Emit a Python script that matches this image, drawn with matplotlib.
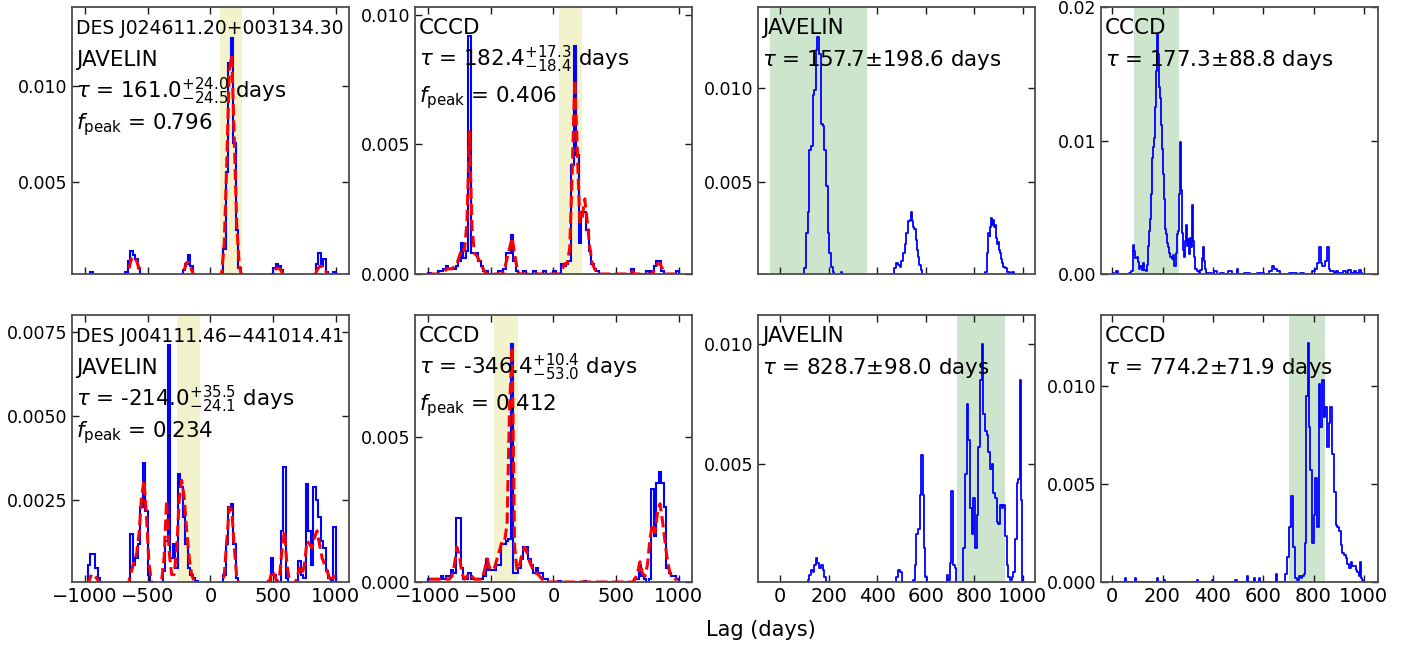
import numpy as np
import matplotlib.pyplot as plt

# ---- data ---------------------------------------------------------------
# left two columns: 20-day bins, lag -1000..1000, given as (bin centre, density)
centers = np.arange(-990, 1000, 20)
edges = np.arange(-1000, 1001, 20)

# source 1 (DES J024611.20+003134.30)
jav1_hist = [(-950, 0.0003),
             (-690, 0.0001), (-670, 0.0003), (-650, 0.0009), (-630, 0.0014), (-610, 0.0012),
             (-590, 0.0010), (-570, 0.0005), (-550, 0.0002),
             (-230, 0.0001), (-210, 0.0004), (-190, 0.0007), (-170, 0.0012), (-150, 0.0006), (-130, 0.0001),
             (90, 0.0002), (110, 0.0015), (130, 0.0055), (150, 0.0112), (170, 0.0125), (190, 0.0070),
             (210, 0.0025), (230, 0.0005),
             (490, 0.0002), (510, 0.0005), (530, 0.0007), (550, 0.0006), (570, 0.0004), (590, 0.0001),
             (830, 0.0002), (850, 0.0007), (870, 0.0013), (890, 0.0006), (910, 0.0010), (930, 0.0003),
             (950, 0.0001), (990, 0.0003)]
jav1_smooth = [(-670, 0.0001), (-650, 0.0005), (-630, 0.0010), (-610, 0.0011), (-590, 0.0009),
               (-570, 0.0005), (-550, 0.0002),
               (-230, 0.0001), (-210, 0.0004), (-190, 0.0008), (-170, 0.0008), (-150, 0.0004), (-130, 0.0001),
               (90, 0.0003), (110, 0.0018), (130, 0.0060), (150, 0.0108), (170, 0.0116), (190, 0.0072),
               (210, 0.0027), (230, 0.0006), (250, 0.0001),
               (490, 0.0001), (510, 0.0004), (530, 0.0005), (550, 0.0005), (570, 0.0003), (590, 0.0001),
               (830, 0.0001), (850, 0.0004), (870, 0.0006), (890, 0.0006), (910, 0.0005), (930, 0.0002),
               (950, 0.0001)]
ccf1_hist = [(-990, 0.00005), (-910, 0.0001), (-890, 0.0001), (-870, 0.0002), (-850, 0.0003),
             (-830, 0.0002), (-810, 0.0002), (-790, 0.0002), (-770, 0.0003), (-750, 0.0005),
             (-730, 0.0012), (-710, 0.0006), (-690, 0.0009), (-670, 0.0092), (-650, 0.0008),
             (-630, 0.0008), (-610, 0.0008), (-590, 0.0005), (-570, 0.0003), (-550, 0.0001),
             (-530, 0.0001), (-430, 0.0001), (-410, 0.0001), (-390, 0.0002), (-370, 0.0008),
             (-350, 0.0008), (-330, 0.0015), (-310, 0.0005), (-290, 0.0001), (-230, 0.0001),
             (-150, 0.0001), (-70, 0.0001), (10, 0.0001), (70, 0.0004), (90, 0.0003), (110, 0.0004),
             (130, 0.0005), (150, 0.0042), (170, 0.0088), (190, 0.0046), (210, 0.0012), (230, 0.0024),
             (250, 0.0024), (270, 0.0017), (290, 0.0009), (310, 0.0004), (330, 0.0002), (350, 0.0001),
             (630, 0.0002), (750, 0.0001), (790, 0.0001), (810, 0.0003), (830, 0.0005), (850, 0.0005),
             (870, 0.0001), (990, 0.0001)]
ccf1_smooth = [(-890, 0.00005), (-870, 0.0001), (-850, 0.0002), (-830, 0.0002), (-810, 0.0002),
               (-790, 0.0003), (-770, 0.0004), (-750, 0.0007), (-730, 0.0010), (-710, 0.0009),
               (-690, 0.0020), (-670, 0.0055), (-650, 0.0018), (-630, 0.0008), (-610, 0.0007),
               (-590, 0.0005), (-570, 0.0003), (-550, 0.0001), (-390, 0.0002), (-370, 0.0006),
               (-350, 0.0010), (-330, 0.0014), (-310, 0.0008), (-290, 0.0002), (70, 0.0002),
               (90, 0.0004), (110, 0.0004), (130, 0.0010), (150, 0.0040), (170, 0.0075), (190, 0.0048),
               (210, 0.0020), (230, 0.0022), (250, 0.0029), (270, 0.0020), (290, 0.0010), (310, 0.0004),
               (330, 0.0002), (630, 0.0001), (810, 0.0002), (830, 0.0004), (850, 0.0004), (870, 0.0002)]

# source 2 (DES J004111.46-441014.41)
jav2_hist = [(-970, 0.0006), (-950, 0.0009), (-930, 0.0009), (-910, 0.0005), (-890, 0.0002),
             (-630, 0.0015), (-610, 0.0006), (-590, 0.0008), (-570, 0.0012), (-550, 0.0023),
             (-530, 0.0036), (-510, 0.0022), (-490, 0.0003),
             (-370, 0.0004), (-350, 0.0013), (-330, 0.0071), (-310, 0.0008), (-290, 0.0012),
             (-270, 0.0005), (-250, 0.0033), (-230, 0.0029), (-210, 0.0020), (-190, 0.0012),
             (-170, 0.0005), (-150, 0.0003), (-130, 0.0002), (-110, 0.0001),
             (110, 0.0003), (130, 0.0012), (150, 0.0023), (170, 0.0024), (190, 0.0012), (210, 0.0002),
             (470, 0.0001), (490, 0.0008), (510, 0.0003), (530, 0.0001),
             (570, 0.0016), (590, 0.0035), (610, 0.0002),
             (690, 0.0001), (710, 0.0007), (730, 0.0003), (750, 0.0002), (770, 0.0030), (790, 0.0016),
             (810, 0.0006), (830, 0.0029), (850, 0.0025), (870, 0.0020), (890, 0.0013), (910, 0.0011),
             (930, 0.0004), (950, 0.0002), (970, 0.0001), (990, 0.0017)]
jav2_smooth = [(-970, 0.0001), (-950, 0.0003), (-930, 0.0003), (-910, 0.0002), (-890, 0.0001),
               (-650, 0.0001), (-630, 0.0004), (-610, 0.0007), (-590, 0.0009), (-570, 0.0015),
               (-550, 0.0026), (-530, 0.0031), (-510, 0.0020), (-490, 0.0006), (-470, 0.0001),
               (-390, 0.0001), (-370, 0.0008), (-350, 0.0025), (-330, 0.0010), (-310, 0.0003),
               (-290, 0.0003), (-270, 0.0010), (-250, 0.0025), (-230, 0.0031), (-210, 0.0026),
               (-190, 0.0016), (-170, 0.0008), (-150, 0.0003), (-130, 0.0001),
               (110, 0.0003), (130, 0.0013), (150, 0.0023), (170, 0.0022), (190, 0.0011), (210, 0.0002),
               (470, 0.0001), (490, 0.0004), (510, 0.0003), (530, 0.0001),
               (550, 0.0002), (570, 0.0010), (590, 0.0016), (610, 0.0006), (630, 0.0001),
               (690, 0.0002), (710, 0.0005), (730, 0.0003), (750, 0.0006), (770, 0.0013), (790, 0.0012),
               (810, 0.0011), (830, 0.0014), (850, 0.0016), (870, 0.0012), (890, 0.0008), (910, 0.0006),
               (930, 0.0004), (950, 0.0002), (970, 0.0001), (990, 0.0003)]
ccf2_hist = [(-990, 0.0001), (-970, 0.0001), (-950, 0.0001), (-930, 0.0001), (-910, 0.0001),
             (-890, 0.0002), (-870, 0.0001), (-850, 0.0002), (-830, 0.0002), (-810, 0.0004),
             (-790, 0.0003), (-770, 0.0022), (-750, 0.0022), (-730, 0.0005), (-710, 0.0001),
             (-690, 0.0001), (-670, 0.0003), (-650, 0.0001), (-630, 0.0001), (-610, 0.0001),
             (-590, 0.0001), (-570, 0.0001), (-550, 0.0002), (-530, 0.0008), (-510, 0.0004),
             (-490, 0.0004), (-470, 0.0004), (-450, 0.0006), (-430, 0.0006), (-410, 0.0013),
             (-390, 0.0013), (-370, 0.0014), (-350, 0.0015), (-330, 0.0082), (-310, 0.0003),
             (-290, 0.0003), (-270, 0.0005), (-250, 0.0008), (-230, 0.0012), (-210, 0.0012),
             (-190, 0.0008), (-170, 0.0006), (-150, 0.0003), (-130, 0.0005), (-110, 0.0003),
             (-90, 0.0003), (-70, 0.0001), (-50, 0.0001), (50, 0.00005), (250, 0.00005),
             (650, 0.0001), (670, 0.0001), (690, 0.0006), (710, 0.0002), (730, 0.0001),
             (770, 0.0001), (790, 0.0032), (810, 0.0016), (830, 0.0034), (850, 0.0038), (870, 0.0034),
             (890, 0.0026), (910, 0.0005), (930, 0.0003), (950, 0.0002), (970, 0.0002), (990, 0.0001)]
ccf2_smooth = [(-990, 0.0001), (-970, 0.0001), (-950, 0.0001), (-930, 0.0001), (-910, 0.0001),
               (-890, 0.0001), (-870, 0.0001), (-850, 0.0001), (-830, 0.0001), (-810, 0.0002),
               (-790, 0.0006), (-770, 0.0012), (-750, 0.0009), (-730, 0.0003), (-710, 0.0001),
               (-690, 0.0002), (-670, 0.0003), (-650, 0.0002), (-630, 0.0001), (-610, 0.0001),
               (-590, 0.0001), (-570, 0.0001), (-550, 0.0004), (-530, 0.0008), (-510, 0.0005),
               (-490, 0.0004), (-470, 0.0005), (-450, 0.0008), (-430, 0.0011), (-410, 0.0014),
               (-390, 0.0014), (-370, 0.0020), (-350, 0.0060), (-330, 0.0081), (-310, 0.0012),
               (-290, 0.0004), (-270, 0.0006), (-250, 0.0010), (-230, 0.0012), (-210, 0.0010),
               (-190, 0.0007), (-170, 0.0005), (-150, 0.0003), (-130, 0.0003), (-110, 0.0002),
               (-90, 0.0001), (650, 0.0001), (670, 0.0003), (690, 0.0007), (710, 0.0003),
               (730, 0.0002), (750, 0.0006), (770, 0.0015), (790, 0.0020), (810, 0.0017),
               (830, 0.0024), (850, 0.0027), (870, 0.0021), (890, 0.0014), (910, 0.0007),
               (930, 0.0003), (950, 0.0002), (970, 0.0001), (990, 0.0001)]

# right two columns: finer distributions, (lag, density)
jav1_fine = [(98, 0), (102, 0.0004), (109, 0.0023), (116, 0.0034), (123, 0.0067), (130, 0.0069),
             (137, 0.0096), (143, 0.0099), (150, 0.0120), (157, 0.0127), (164, 0.0118), (171, 0.0081),
             (178, 0.0080), (185, 0.0067), (192, 0.0048), (199, 0.0023), (206, 0.0012), (213, 0.0005),
             (220, 0.0002), (226, 0), (248, 0), (253, 0.0002), (258, 0),
             (455, 0), (461, 0.0001), (475, 0.0004), (482, 0.0007), (489, 0.0006), (496, 0.0005),
             (502, 0.0008), (509, 0.0012), (516, 0.0017), (523, 0.0023), (530, 0.0029), (536, 0.0030),
             (541, 0.0034), (546, 0.0029), (551, 0.0026), (556, 0.0025), (562, 0.0019), (567, 0.0014),
             (571, 0.0010), (576, 0.0006), (581, 0.0003), (589, 0),
             (843, 0), (848, 0.0002), (854, 0.0012), (861, 0.0023), (865, 0.0021), (868, 0.0026),
             (872, 0.0031), (875, 0.0027), (879, 0.0030), (882, 0.0026), (886, 0.0027), (889, 0.0022),
             (893, 0.0020), (896, 0.0017), (900, 0.0018), (903, 0.0014), (907, 0.0012), (910, 0.0009),
             (916, 0.0007), (923, 0.0005), (930, 0.0004), (937, 0.0002), (944, 0.0002), (951, 0.0001),
             (958, 0.0002), (966, 0)]
ccf1_fine = [(0, 0), (6, 0.0001), (12, 0), (20, 0.0002), (26, 0), (60, 0), (73, 0.0001), (80, 0.0002),
             (86, 0.0022), (90, 0.0017), (94, 0.0012), (100, 0.0013), (106, 0.0009), (110, 0.0004),
             (113, 0.0006), (120, 0.0003), (126, 0.0008), (130, 0.0003), (136, 0.0002), (140, 0.0007),
             (146, 0.0021), (150, 0.0032), (153, 0.0041), (158, 0.0060), (162, 0.0087), (166, 0.0095),
             (170, 0.0102), (173, 0.0125), (176, 0.0152), (180, 0.0180), (183, 0.0165), (186, 0.0140),
             (190, 0.0135), (193, 0.0132), (196, 0.0112), (200, 0.0094), (203, 0.0075), (206, 0.0056),
             (210, 0.0043), (213, 0.0034), (216, 0.0030), (219, 0.0023), (224, 0.0020), (229, 0.0016),
             (234, 0.0013), (239, 0.0011), (245, 0.0014), (250, 0.0006), (254, 0.0012), (257, 0.0016),
             (260, 0.0030), (263, 0.0032), (267, 0.0060), (270, 0.0099), (273, 0.0075), (275, 0.0063),
             (279, 0.0031), (283, 0.0018), (286, 0.0013), (290, 0.0025), (295, 0.0037), (299, 0.0021),
             (303, 0.0026), (307, 0.0015), (311, 0.0027), (315, 0.0020), (319, 0.0052), (323, 0.0025),
             (326, 0.0013), (332, 0.0004), (340, 0.0002), (346, 0.0001), (352, 0.0003), (358, 0.0012),
             (362, 0.0020), (366, 0.0010), (370, 0.0004), (378, 0.0001), (390, 0.0001), (400, 0),
             (412, 0.0002), (420, 0), (439, 0.0001), (446, 0), (472, 0.0002), (478, 0), (495, 0),
             (499, 0.0004), (504, 0), (545, 0.0001), (552, 0), (598, 0.0001), (606, 0), (620, 0),
             (630, 0.0002), (638, 0.0006), (645, 0.0004), (652, 0.0004), (658, 0.0002), (665, 0.0002),
             (672, 0), (731, 0.0001), (738, 0), (758, 0.0001), (765, 0), (790, 0), (798, 0.0002),
             (812, 0.0004), (818, 0.0008), (823, 0.0020), (827, 0.0020), (832, 0.0008), (838, 0.0006),
             (844, 0.0006), (851, 0.0010), (855, 0.0020), (858, 0.0020), (862, 0.0004), (870, 0.0002),
             (878, 0.0002), (886, 0.0001), (894, 0.0002), (904, 0.0001), (914, 0.0001), (924, 0.0002),
             (934, 0.0001), (944, 0.0003), (954, 0.0001), (964, 0.0002), (974, 0.0001), (984, 0.0003),
             (992, 0.0001), (997, 0)]
jav2_fine = [(110, 0), (116, 0.0002), (123, 0.0004), (130, 0.0006), (137, 0.0005), (144, 0.0008),
             (150, 0.0011), (157, 0.0009), (164, 0.0007), (171, 0.0008), (178, 0.0006), (185, 0.0003),
             (192, 0.0001), (199, 0),
             (476, 0), (482, 0.0003), (490, 0.0006), (497, 0.0005), (503, 0),
             (545, 0), (551, 0.0002), (558, 0.0008), (565, 0.0021), (571, 0.0023), (578, 0.0037),
             (585, 0.0054), (590, 0.0037), (595, 0.0015), (600, 0.0003), (606, 0),
             (684, 0), (689, 0.0004), (696, 0.0002), (703, 0.0009), (709, 0.0039), (716, 0.0008),
             (723, 0.0007), (730, 0),
             (752, 0), (758, 0.0015), (765, 0.0046), (772, 0.0075), (778, 0.0060), (785, 0.0032),
             (792, 0.0021), (799, 0.0036), (806, 0.0015), (813, 0.0029), (820, 0.0057), (827, 0.0085),
             (834, 0.0100), (841, 0.0071), (848, 0.0064), (855, 0.0062), (861, 0.0055), (868, 0.0048),
             (875, 0.0050), (882, 0.0038), (889, 0.0036), (896, 0.0026), (903, 0.0025), (910, 0.0033),
             (916, 0.0032), (923, 0.0033), (930, 0.0020), (937, 0.0008), (944, 0.0003), (951, 0.0002),
             (958, 0.0003), (965, 0.0005), (972, 0.0019), (979, 0.0042), (985, 0.0044), (992, 0.0085),
             (996, 0.0035), (1001, 0)]
ccf2_fine = [(0, 0), (49, 0), (53, 0.0002), (57, 0), (89, 0), (93, 0.0002), (97, 0), (176, 0),
             (180, 0.0002), (184, 0), (202, 0), (206, 0.0001), (210, 0), (335, 0), (339, 0.0001),
             (343, 0), (395, 0), (399, 0.0001), (403, 0), (488, 0), (492, 0.0001), (496, 0),
             (535, 0), (539, 0.0003), (543, 0), (561, 0), (565, 0.0002), (569, 0), (581, 0),
             (585, 0.0002), (589, 0), (648, 0), (652, 0.0004), (656, 0),
             (680, 0), (691, 0.0004), (698, 0.0013), (707, 0.0028), (715, 0.0044), (722, 0.0018),
             (731, 0.0002), (738, 0.0001), (745, 0.0003), (752, 0.0002), (758, 0.0003), (765, 0.0004),
             (768, 0.0020), (774, 0.0095), (779, 0.0122), (784, 0.0079), (791, 0.0057), (798, 0.0020),
             (804, 0.0034), (811, 0.0053), (818, 0.0028), (824, 0.0101), (831, 0.0079), (838, 0.0103),
             (844, 0.0084), (851, 0.0089), (858, 0.0069), (864, 0.0081), (871, 0.0089), (878, 0.0065),
             (884, 0.0046), (891, 0.0029), (898, 0.0028), (904, 0.0026), (911, 0.0019), (917, 0.0015),
             (924, 0.0014), (931, 0.0012), (937, 0.0009), (944, 0.0007), (951, 0.0010), (957, 0.0008),
             (964, 0.0008), (970, 0.0006), (977, 0.0005), (983, 0.0003), (987, 0.0010), (992, 0.0002),
             (997, 0.0001), (1000, 0)]

names = ['DES J024611.20+003134.30', 'DES J004111.46\u2212441014.41']
jav_tau = [r'$\tau$ = 161.0$^{+24.0}_{-24.5}$ days', r'$\tau$ = -214.0$^{+35.5}_{-24.1}$ days']
jav_fpeak = ['0.796', '0.234']
ccf_tau = [r'$\tau$ = 182.4$^{+17.3}_{-18.4}$ days', r'$\tau$ = -346.4$^{+10.4}_{-53.0}$ days']
ccf_fpeak = ['0.406', '0.412']
jav_peak_range = [(77, 253), (-269, -82)]
ccf_peak_range = [(45, 230), (-478, -279)]
jav_fine_tau = [(157.7, 198.6), (828.7, 98.0)]
ccf_fine_tau = [(177.3, 88.8), (774.2, 71.9)]

hist_data = [[jav1_hist, jav1_smooth, ccf1_hist, ccf1_smooth],
             [jav2_hist, jav2_smooth, ccf2_hist, ccf2_smooth]]
fine_data = [[jav1_fine, ccf1_fine], [jav2_fine, ccf2_fine]]


def on_grid(pairs):
    vals = np.zeros(len(centers))
    for lag, v in pairs:
        vals[(lag + 990) // 20] = v
    return vals


# ---- plotting ------------------------------------------------------------
fig, axes = plt.subplots(2, 4, figsize=(14.22, 6.46), dpi=100)
fig.subplots_adjust(left=0.0506, right=0.969, top=0.989, bottom=0.099, wspace=0.238, hspace=0.154)

ylims = [[(0.0002, 0.0141), (0, 0.0103), (0.0001, 0.0143), (0, 0.02)],
         [(0.00008, 0.0080), (0, 0.0092), (0.0001, 0.0112), (0, 0.0136)]]
yticks = [[[0.005, 0.010], [0.0, 0.005, 0.010], [0.005, 0.010], [0.0, 0.01, 0.02]],
          [[0.0025, 0.0050, 0.0075], [0.0, 0.005], [0.005, 0.010], [0.0, 0.005, 0.010]]]
xlims = [(-1105, 1105), (-1105, 1105), (-92, 1050), (-45, 1056)]
fs = 15.4

for r in range(2):
    jh, js, ch, cs = hist_data[r]
    # JAVELIN (left) and CCCD (second column)
    for c, (hh, ss, span) in enumerate([(jh, js, jav_peak_range[r]), (ch, cs, ccf_peak_range[r])]):
        ax = axes[r, c]
        ax.axvspan(span[0], span[1], color='y', alpha=0.2, lw=0, zorder=0)
        ax.stairs(on_grid(hh), edges, color='b', lw=1.5, zorder=2)
        ax.plot(centers, on_grid(ss), color='r', ls='--', lw=2.2, zorder=3)
    # fine distributions (third and fourth columns)
    for k, (pts, tau) in enumerate(zip(fine_data[r], [jav_fine_tau[r], ccf_fine_tau[r]])):
        ax = axes[r, 2 + k]
        ax.axvspan(tau[0] - tau[1], tau[0] + tau[1], color='g', alpha=0.2, lw=0, zorder=0)
        lag = [p[0] for p in pts]
        val = [p[1] for p in pts]
        ax.step(lag, val, where='mid', color='b', lw=1.3, zorder=2)

    a = axes[r, 0]
    a.text(0.015, 0.90, names[r], transform=a.transAxes, ha='left', va='baseline', fontsize=13.5)
    a.text(0.015, 0.778, 'JAVELIN', transform=a.transAxes, ha='left', va='baseline', fontsize=fs)
    a.text(0.015, 0.657, jav_tau[r], transform=a.transAxes, ha='left', va='baseline', fontsize=fs)
    a.text(0.015, 0.543, r'$f_{\rm peak}$ = ' + jav_fpeak[r], transform=a.transAxes,
           ha='left', va='baseline', fontsize=fs)
    a = axes[r, 1]
    a.text(0.015, 0.90, 'CCCD', transform=a.transAxes, ha='left', va='baseline', fontsize=fs)
    a.text(0.015, 0.778, ccf_tau[r], transform=a.transAxes, ha='left', va='baseline', fontsize=fs)
    a.text(0.015, 0.642, r'$f_{\rm peak}$ = ' + ccf_fpeak[r], transform=a.transAxes,
           ha='left', va='baseline', fontsize=fs)
    for k, (lab, tau) in enumerate([('JAVELIN', jav_fine_tau[r]), ('CCCD', ccf_fine_tau[r])]):
        a = axes[r, 2 + k]
        a.text(0.015, 0.90, lab, transform=a.transAxes, ha='left', va='baseline', fontsize=fs)
        a.text(0.015, 0.778, r'$\tau$ = %.1f$\pm$%.1f days' % tau, transform=a.transAxes,
               ha='left', va='baseline', fontsize=fs)

for r in range(2):
    for c in range(4):
        ax = axes[r, c]
        ax.set_xlim(*xlims[c])
        ax.set_ylim(*ylims[r][c])
        ax.set_yticks(yticks[r][c])
        if c < 2:
            ax.set_xticks([-1000, -500, 0, 500, 1000])
        else:
            ax.set_xticks([0, 200, 400, 600, 800, 1000])
        ax.tick_params(direction='in', top=True, right=True, length=5, width=1, color='0.1')
        ax.tick_params(axis='y', labelsize=12.5)
        ax.tick_params(axis='x', labelsize=14)
        if r == 0:
            ax.tick_params(axis='x', labelbottom=False)
        for s in ax.spines.values():
            s.set_color('0.3')
            s.set_linewidth(1.3)

fig.text(0.535, 0.025, 'Lag (days)', ha='center', va='center', fontsize=15)

plt.savefig('out.png', dpi=100)
